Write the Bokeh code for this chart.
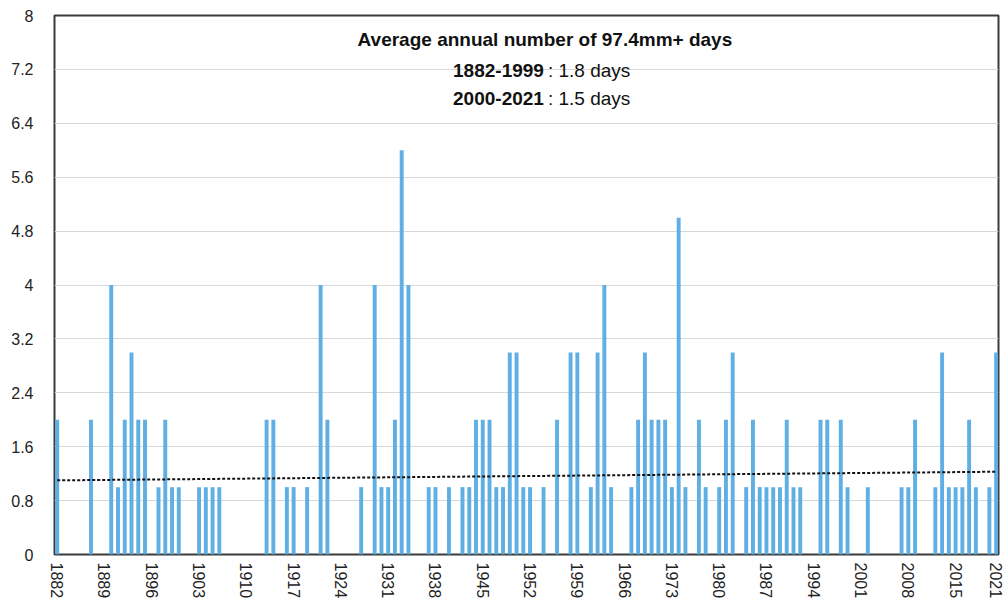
import math
import numpy as np
from bokeh.plotting import figure
from bokeh.models import FixedTicker, CustomJSTickFormatter, Label, Range1d, ColumnDataSource
from bokeh.embed import file_html
from bokeh.resources import INLINE

# ---- data ----
years = list(range(1882, 2022))
days = [
    2, 0, 0, 0, 0, 2, 0, 0, 4, 1,   # 1882-1891
    2, 3, 2, 2, 0, 1, 2, 1, 1, 0,   # 1892-1901
    0, 1, 1, 1, 1, 0, 0, 0, 0, 0,   # 1902-1911
    0, 2, 2, 0, 1, 1, 0, 1, 0, 4,   # 1912-1921
    2, 0, 0, 0, 0, 1, 0, 4, 1, 1,   # 1922-1931
    2, 6, 4, 0, 0, 1, 1, 0, 1, 0,   # 1932-1941
    1, 1, 2, 2, 2, 1, 1, 3, 3, 1,   # 1942-1951
    1, 0, 1, 0, 2, 0, 3, 3, 0, 1,   # 1952-1961
    3, 4, 1, 0, 0, 1, 2, 3, 2, 2,   # 1962-1971
    2, 1, 5, 1, 0, 2, 1, 0, 1, 2,   # 1972-1981
    3, 0, 1, 2, 1, 1, 1, 1, 2, 1,   # 1982-1991
    1, 0, 0, 2, 2, 0, 2, 1, 0, 0,   # 1992-2001
    1, 0, 0, 0, 0, 1, 1, 2, 0, 0,   # 2002-2011
    1, 3, 1, 1, 1, 2, 1, 0, 1, 3,   # 2012-2021
]
x_tick_years = [1882, 1889, 1896, 1903, 1910, 1917, 1924, 1931, 1938, 1945,
                1952, 1959, 1966, 1973, 1980, 1987, 1994, 2001, 2008, 2015, 2021]
y_ticks = [0, 0.8, 1.6, 2.4, 3.2, 4, 4.8, 5.6, 6.4, 7.2, 8]
title_text = "Average annual number of 97.4mm+ days"
period_names = ["1882-1999", "2000-2021"]
period_texts = [": 1.8 days", ": 1.5 days"]

# linear trend through the series
coef = np.polyfit(years, days, 1)
trend_x = [years[0], years[-1]]
trend_y = [float(np.polyval(coef, v)) for v in trend_x]

FONT = "Liberation Sans"

p = figure(width=1003, height=604, output_backend="svg", toolbar_location=None,
           x_range=Range1d(1881.6, 2021.35), y_range=Range1d(0, 8),
           min_border_left=54, min_border_right=5, min_border_top=15, min_border_bottom=50)

src = ColumnDataSource(dict(year=years, days=days))
p.vbar(x="year", top="days", width=0.58, source=src, fill_color="#5fafe4", line_color=None)
p.line(trend_x, trend_y, line_color="#111111", line_width=2, line_dash="3 2")

p.outline_line_color = "#3a3a3a"
p.outline_line_width = 2
p.background_fill_color = "white"
p.border_fill_color = "white"

p.xgrid.visible = False
p.ygrid.grid_line_color = "#d8d8d8"
p.ygrid.grid_line_width = 1
p.ygrid.ticker = FixedTicker(ticks=y_ticks)

p.yaxis.ticker = FixedTicker(ticks=y_ticks)
p.yaxis.formatter = CustomJSTickFormatter(code="return (Math.round(tick*10)/10).toString();")
p.xaxis.ticker = FixedTicker(ticks=x_tick_years)
p.xaxis.formatter = CustomJSTickFormatter(code="return tick.toFixed(0);")
p.xaxis.major_label_orientation = -math.pi / 2

for ax in (p.xaxis, p.yaxis):
    ax.axis_line_color = None
    ax.major_tick_line_color = None
    ax.minor_tick_line_color = None
    ax.major_tick_in = 0
    ax.major_tick_out = 0
    ax.major_label_text_font = FONT
    ax.major_label_text_font_size = "16px"
    ax.major_label_text_color = "#222222"
p.yaxis.major_label_standoff = 21
p.xaxis.major_label_standoff = 8

p.add_layout(Label(x=1954.2, y=7.64, text=title_text, text_font=FONT, text_font_size="19px",
                   text_font_style="bold", text_align="center", text_baseline="middle",
                   text_color="#111111"))
ys = [7.18, 6.77]
for name, txt, yy in zip(period_names, period_texts, ys):
    p.add_layout(Label(x=1954.05, y=yy, text=name, text_font=FONT, text_font_size="19px",
                       text_font_style="bold", text_align="right", text_baseline="middle",
                       text_color="#111111"))
    p.add_layout(Label(x=1954.05, y=yy, x_offset=4, text=txt, text_font=FONT,
                       text_font_size="19px", text_align="left", text_baseline="middle",
                       text_color="#111111"))

open("out.html", "w").write(file_html(p, INLINE))
